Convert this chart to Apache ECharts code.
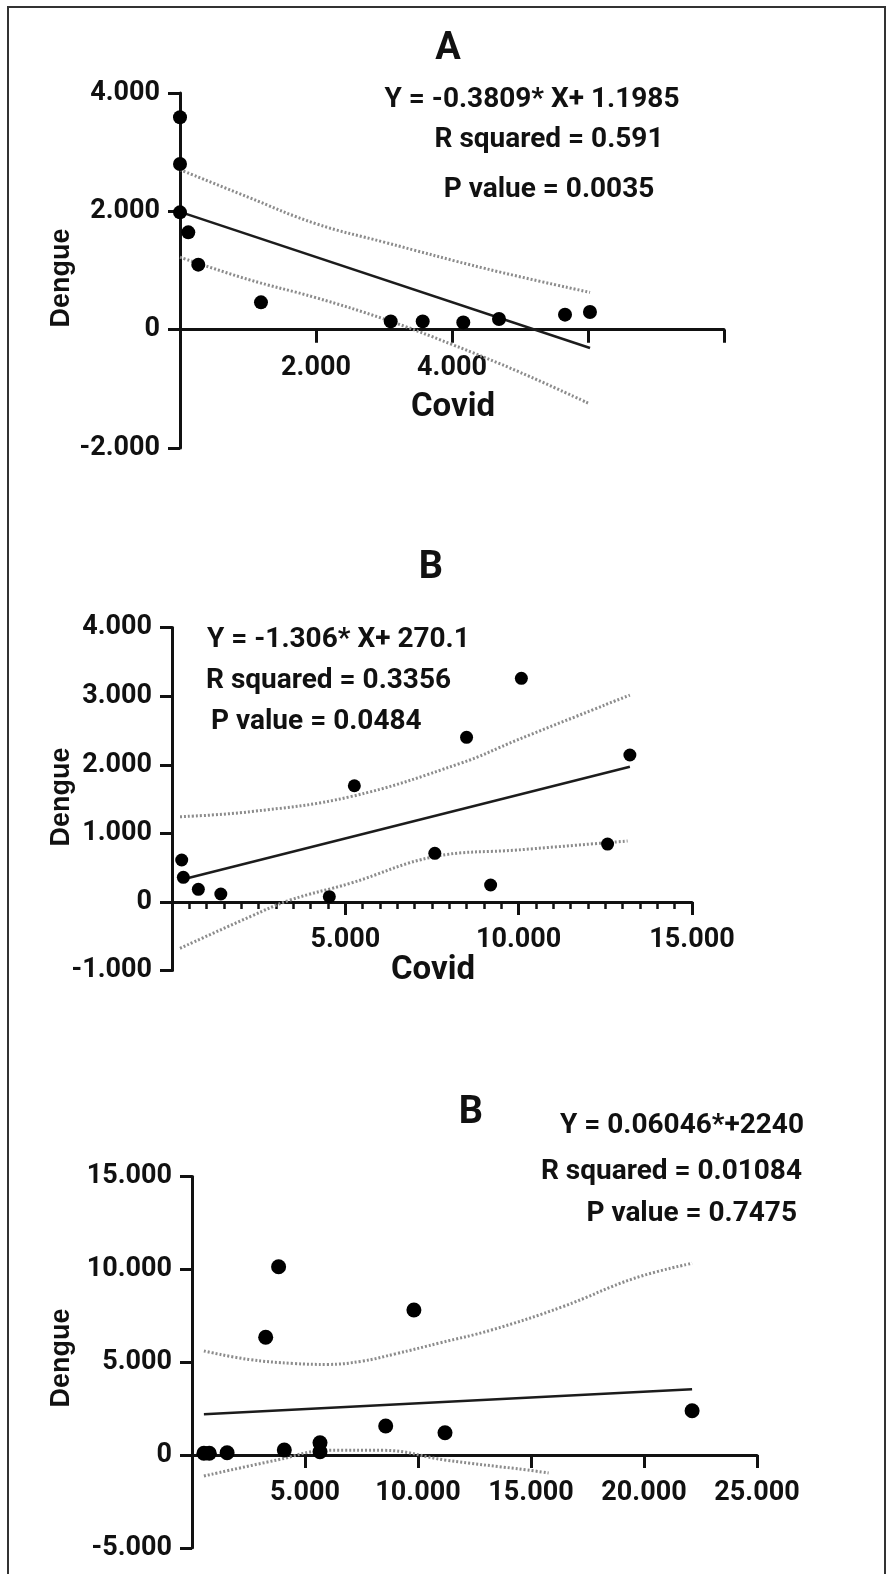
<!DOCTYPE html>
<html>
<head>
<meta charset="utf-8">
<script src="https://cdn.jsdelivr.net/npm/echarts@6/dist/echarts.min.js"></script>
<style>
  html, body { margin: 0; padding: 0; background: #fff; }
  #chart { width: 892px; height: 1574px; }
</style>
</head>
<body>
<div id="chart"></div>
<script>
// ---- panel A ----
const covidA = [0, 0, 0, 122, 269, 1191, 3099, 3569, 4166, 4691, 5662, 6029];
const dengueA = [3589, 2801, 1983, 1645, 1099, 462, 140, 140, 123, 181, 254, 299];
const fitA = [[0, 1990], [6030, -310]];
const upperA = [[0, 2705], [1000, 2240], [2000, 1790], [3000, 1480], [4500, 1030], [6030, 630]];
const lowerA = [[0, 1225], [1000, 850], [2000, 540], [3000, 180], [4000, -250], [5000, -720], [6000, -1240]];
const labelsAX = [2000, 4000];

// ---- panel B ----
const covidB = [280, 327, 760, 1408, 4538, 5260, 7581, 8497, 9191, 10078, 12564, 13208];
const dengueB = [612, 360, 185, 117, 77, 1695, 710, 2401, 248, 3261, 845, 2143];
const fitB = [[327, 331], [13208, 1972]];
const upperB = [[231, 1243], [2254, 1316], [5145, 1535], [8324, 2022], [9962, 2362], [13208, 3017]];
const lowerB = [[231, -675], [2254, -214], [3410, 29], [5145, 273], [7552, 660], [9962, 758], [13142, 889]];

// ---- panel C ----
const covidC = [527, 765, 1553, 3261, 3832, 4084, 5664, 5664, 8571, 9819, 11195, 22128];
const dengueC = [92, 92, 124, 6342, 10146, 269, 663, 178, 1563, 7812, 1202, 2387];
const fitC = [[527, 2193], [22128, 3540]];
const upperC = [[527, 5603], [2500, 5150], [4500, 4930], [6000, 4880], [7500, 5050], [9000, 5450], [11000, 6050], [13250, 6735], [16400, 7990], [19570, 9521], [22128, 10329]];
const lowerC = [[527, -1130], [3765, -270], [6000, 250], [8500, 250], [11195, -270], [14850, -810], [15780, -970]];

// texts
const eqA = ['Y = -0.3809* X+ 1.1985', 'R squared = 0.591', 'P value = 0.0035'];
const eqB = ['Y = -1.306* X+ 270.1', 'R squared = 0.3356', 'P value = 0.0484'];
const eqC = ['Y = 0.06046*+2240', 'R squared = 0.01084', 'P value = 0.7475'];

const FONT = 'Roboto';
const INK = '#111';

// 4000 -> "4.000"
const fmt = v => String(v).replace(/\B(?=(\d{3})+(?!\d))/g, '.');
const pairs = (xs, ys) => xs.map((x, i) => [x, ys[i]]);

const grids = [
  { left: 180, top: 93, width: 544, height: 355 },
  { left: 172, top: 627.6, width: 520, height: 343 },
  { left: 192, top: 1176.6, width: 565, height: 371.2 }
];
const yRanges = [[-2000, 4000, 2000], [-1000, 4000, 1000], [-5000, 15000, 5000]];

const chart = echarts.init(document.getElementById('chart'), null, { renderer: 'canvas' });

// x axis sits on y = 0, moved up from the grid bottom with offset
function xAxisOf(idx, max, interval, showLabel, minor) {
  const r = yRanges[idx];
  const up = grids[idx].height * (0 - r[0]) / (r[1] - r[0]);
  return {
    type: 'value', gridIndex: idx, min: 0, max: max, interval: interval,
    offset: -up,
    axisLine: { onZero: false, lineStyle: { color: INK, width: 3 } },
    axisTick: { show: true, length: 13, lineStyle: { color: INK, width: 3 } },
    minorTick: { show: !!minor, splitNumber: 10, length: 7, lineStyle: { color: INK, width: 2.5 } },
    splitLine: { show: false },
    axisLabel: {
      margin: 25, fontFamily: FONT, fontWeight: 'bold', fontSize: 27, color: INK,
      formatter: v => showLabel(v) ? fmt(v) : ''
    }
  };
}

function yAxisOf(idx) {
  const r = yRanges[idx];
  return {
    type: 'value', gridIndex: idx, min: r[0], max: r[1], interval: r[2],
    axisLine: { show: true, onZero: false, lineStyle: { color: INK, width: 3 } },
    axisTick: { show: true, length: 12, lineStyle: { color: INK, width: 3 } },
    splitLine: { show: false },
    axisLabel: { margin: 20, fontFamily: FONT, fontWeight: 'bold', fontSize: 27, color: INK, formatter: fmt }
  };
}

function seriesOf(idx, xs, ys, fit, upper, lower, dot) {
  const band = d => ({
    type: 'line', xAxisIndex: idx, yAxisIndex: idx, data: d, smooth: 0.4,
    symbol: 'none', silent: true,
    lineStyle: { color: '#8c8c8c', width: 3, type: [2, 2] }
  });
  return [
    band(upper),
    band(lower),
    {
      type: 'line', xAxisIndex: idx, yAxisIndex: idx, data: fit, symbol: 'none',
      lineStyle: { color: '#1c1c1c', width: 2.5 }
    },
    {
      type: 'scatter', xAxisIndex: idx, yAxisIndex: idx, data: pairs(xs, ys),
      symbolSize: dot, itemStyle: { color: '#000', opacity: 1 }, z: 5
    }
  ];
}

function text(str, x, y, size, align, family) {
  return {
    type: 'text', x: x, y: y, z: 100,
    style: {
      text: str, x: 0, y: 0, fill: INK,
      font: 'bold ' + size + 'px ' + (family || FONT),
      align: align, textAlign: align, verticalAlign: 'middle', textVerticalAlign: 'middle'
    }
  };
}

function dengue(y) {
  const t = text('Dengue', 62, y, 27, 'center', '"Liberation Sans", Arial');
  t.rotation = Math.PI / 2;
  return t;
}

const option = {
  animation: false,
  backgroundColor: '#fff',
  grid: grids,
  xAxis: [
    xAxisOf(0, 8000, 2000, v => labelsAX.indexOf(v) >= 0),
    xAxisOf(1, 15000, 5000, v => v !== 0, true),
    xAxisOf(2, 25000, 5000, v => v !== 0)
  ],
  yAxis: [yAxisOf(0), yAxisOf(1), yAxisOf(2)],
  series: [].concat(
    seriesOf(0, covidA, dengueA, fitA, upperA, lowerA, 14),
    seriesOf(1, covidB, dengueB, fitB, upperB, lowerB, 13),
    seriesOf(2, covidC, dengueC, fitC, upperC, lowerC, 15)
  ),
  graphic: [
    // outer frame, runs off the bottom like the original
    {
      type: 'rect', z: 0, silent: true,
      shape: { x: 8, y: 7, width: 877, height: 1640 },
      style: { fill: 'none', stroke: '#333', lineWidth: 2 }
    },
    // panel A
    text('A', 448, 49, 38, 'center'),
    text(eqA[0], 532, 100, 28, 'center'),
    text(eqA[1], 549, 140, 28, 'center'),
    text(eqA[2], 549, 190, 28, 'center'),
    text('Covid', 453, 408, 33, 'center'),
    dengue(278),
    // panel B
    text('B', 431, 568, 38, 'center'),
    text(eqB[0], 207, 640, 28, 'left'),
    text(eqB[1], 206, 681, 28, 'left'),
    text(eqB[2], 211, 722, 28, 'left'),
    text('Covid', 433, 971, 33, 'center'),
    dengue(797),
    // panel C
    text('B', 471, 1113, 38, 'center'),
    text(eqC[0], 804, 1126, 28, 'right'),
    text(eqC[1], 802, 1172, 28, 'right'),
    text(eqC[2], 797, 1214, 28, 'right'),
    dengue(1358)
  ]
};

chart.setOption(option);
window.addEventListener('resize', () => chart.resize());
</script>
</body>
</html>
